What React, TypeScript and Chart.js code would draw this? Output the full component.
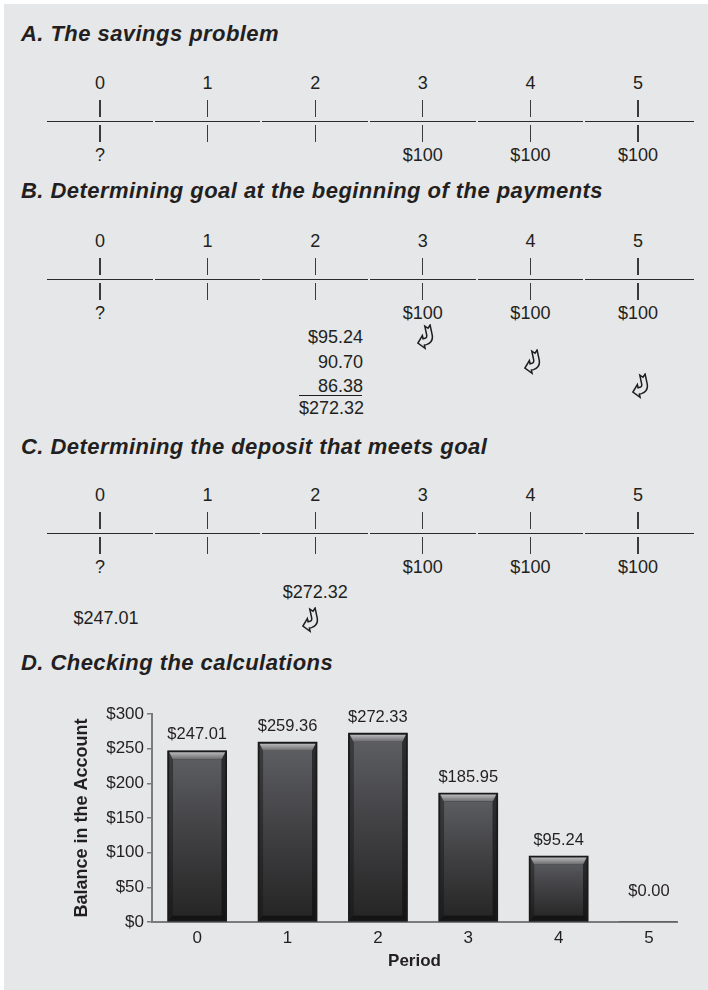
import React, { useEffect, useRef } from "react";
import { Chart, registerables } from "chart.js";

Chart.register(...registerables);

// ---------------- data ----------------
const periods = [0, 1, 2, 3, 4, 5];
const cashFlows: (number | null)[] = [null, null, null, 100, 100, 100];
const unknownMark = "?";
const presentValues = [95.24, 90.7, 86.38];
const goalAmount = 272.32;
const depositAmount = 247.01;
const balances = [247.01, 259.36, 272.33, 185.95, 95.24, 0];
const balanceTicks = [0, 50, 100, 150, 200, 250, 300];
const sectionTitles = [
  "A. The savings problem",
  "B. Determining goal at the beginning of the payments",
  "C. Determining the deposit that meets goal",
  "D. Checking the calculations",
];
const yAxisTitle = "Balance in the Account";
const xAxisTitle = "Period";

// ---------------- layout ----------------
const FONT = "'Liberation Sans', Arial, Helvetica, sans-serif";
const BG = "#e6e7e9";
const INK = "#231f20";
const TL_X0 = 100;
const TL_DX = 107.6;
const tlX = (p: number) => TL_X0 + p * TL_DX;
const LINE_L = 47;
const LINE_R = 694;
const TITLE_Y = [34, 191, 447, 663];
const TIMELINE_Y = [83, 241, 495];

const money = (v: number) => `$${v.toFixed(2)}`;

function Txt({
  x,
  y,
  children,
  align = "center",
  size = 18,
  bold = false,
  italic = false,
  spacing = 0,
}: {
  x: number;
  y: number;
  children: React.ReactNode;
  align?: "left" | "center" | "right";
  size?: number;
  bold?: boolean;
  italic?: boolean;
  spacing?: number;
}) {
  const tx = align === "center" ? "-50%" : align === "right" ? "-100%" : "0";
  return (
    <div
      style={{
        position: "absolute",
        left: x,
        top: y,
        transform: `translate(${tx}, -50%)`,
        fontSize: size,
        lineHeight: 1,
        whiteSpace: "nowrap",
        fontWeight: bold ? 700 : 400,
        fontStyle: italic ? "italic" : "normal",
        letterSpacing: spacing,
        color: INK,
        fontFamily: FONT,
      }}
    >
      {children}
    </div>
  );
}

function VBar({ x, y1, y2 }: { x: number; y1: number; y2: number }) {
  return (
    <div
      style={{
        position: "absolute",
        left: x - 0.6,
        top: y1,
        width: 1.2,
        height: y2 - y1,
        background: "#3a3a3a",
      }}
    />
  );
}

function Arrow({ cx, cy }: { cx: number; cy: number }) {
  return (
    <svg
      width={24}
      height={26}
      viewBox="0 0 22 24"
      style={{ position: "absolute", left: cx - 12, top: cy - 13 }}
    >
      <g transform="rotate(-12 11 12)">
        <path
          d="M12,2 L14.5,4.5 L17,2 L17,11 Q17,18 10,19 L8,19 L8,22 L2.5,16 L8,10 L8,13 L10,13 Q12,13 12,10 Z"
          fill={BG}
          stroke="#1e1e1e"
          strokeWidth={1.4}
          strokeLinejoin="miter"
        />
      </g>
    </svg>
  );
}

function Timeline({ top }: { top: number }) {
  const bounds: number[] = [LINE_L];
  for (let i = 0; i < periods.length - 1; i++) bounds.push((tlX(periods[i]) + tlX(periods[i + 1])) / 2);
  bounds.push(LINE_R);
  return (
    <>
      {periods.map((p) => (
        <Txt key={"n" + p} x={tlX(p)} y={top}>
          {String(p)}
        </Txt>
      ))}
      {periods.map((p) => (
        <VBar key={"u" + p} x={tlX(p)} y1={top + 17} y2={top + 34} />
      ))}
      {bounds.slice(0, -1).map((b, i) => (
        <div
          key={"s" + i}
          style={{
            position: "absolute",
            left: b + (i === 0 ? 0 : 1),
            top: top + 37.5,
            width: bounds[i + 1] - b - (i === 0 ? 1 : 2) + (i === bounds.length - 2 ? 1 : 0),
            height: 1.6,
            background: "#2a2a2a",
          }}
        />
      ))}
      {periods.map((p) => (
        <VBar key={"d" + p} x={tlX(p)} y1={top + 42} y2={top + 59} />
      ))}
      {periods.map((p, i) => {
        const cf = cashFlows[i];
        const label = i === 0 ? unknownMark : cf != null ? `$${cf}` : "";
        return label ? (
          <Txt key={"c" + p} x={tlX(p)} y={top + 72}>
            {label}
          </Txt>
        ) : null;
      })}
    </>
  );
}

const bevelPlugin = {
  id: "bevelBars",
  afterDatasetDraw(chart: any, args: any) {
    const ctx: CanvasRenderingContext2D = chart.ctx;
    args.meta.data.forEach((el: any) => {
      const { x, y, base, width } = el.getProps(["x", "y", "base", "width"], true);
      const h = base - y;
      if (h < 2) return;
      const l = x - width / 2;
      const r = x + width / 2;
      const t = y;
      const b = base;
      const ins = 1.5;
      const bw = Math.min(7, h / 3);
      const sw = 3.5;
      ctx.save();
      ctx.fillStyle = "#1a1a1a";
      ctx.fillRect(l, t, width, h);
      // face
      const g = ctx.createLinearGradient(0, t, 0, b);
      g.addColorStop(0, "#5f6064");
      g.addColorStop(0.45, "#434346");
      g.addColorStop(1, "#242424");
      ctx.fillStyle = g;
      ctx.fillRect(l + ins + sw, t + ins + bw, width - 2 * ins - 2 * sw, h - 2 * ins - bw - 4);
      // left bevel
      const lg = ctx.createLinearGradient(0, t, 0, b);
      lg.addColorStop(0, "#3d3d40");
      lg.addColorStop(1, "#1c1c1c");
      ctx.fillStyle = lg;
      ctx.beginPath();
      ctx.moveTo(l + ins, t + ins);
      ctx.lineTo(l + ins + sw, t + ins + bw);
      ctx.lineTo(l + ins + sw, b - ins - 4);
      ctx.lineTo(l + ins, b - ins);
      ctx.closePath();
      ctx.fill();
      // right bevel
      const rg = ctx.createLinearGradient(0, t, 0, b);
      rg.addColorStop(0, "#2e2e30");
      rg.addColorStop(1, "#151515");
      ctx.fillStyle = rg;
      ctx.beginPath();
      ctx.moveTo(r - ins, t + ins);
      ctx.lineTo(r - ins - sw, t + ins + bw);
      ctx.lineTo(r - ins - sw, b - ins - 4);
      ctx.lineTo(r - ins, b - ins);
      ctx.closePath();
      ctx.fill();
      // bottom bevel
      ctx.fillStyle = "#141414";
      ctx.beginPath();
      ctx.moveTo(l + ins, b - ins);
      ctx.lineTo(l + ins + sw, b - ins - 4);
      ctx.lineTo(r - ins - sw, b - ins - 4);
      ctx.lineTo(r - ins, b - ins);
      ctx.closePath();
      ctx.fill();
      // top bevel
      const tg = ctx.createLinearGradient(0, t + ins, 0, t + ins + bw);
      tg.addColorStop(0, "#b9b9ba");
      tg.addColorStop(1, "#6a6a6d");
      ctx.fillStyle = tg;
      ctx.beginPath();
      ctx.moveTo(l + ins, t + ins);
      ctx.lineTo(r - ins, t + ins);
      ctx.lineTo(r - ins - sw, t + ins + bw);
      ctx.lineTo(l + ins + sw, t + ins + bw);
      ctx.closePath();
      ctx.fill();
      ctx.restore();
    });
  },
};

const labelPlugin = {
  id: "barLabels",
  afterDatasetsDraw(chart: any) {
    const ctx: CanvasRenderingContext2D = chart.ctx;
    const meta = chart.getDatasetMeta(0);
    ctx.save();
    ctx.font = `16.5px ${FONT}`;
    ctx.fillStyle = INK;
    ctx.textAlign = "center";
    ctx.textBaseline = "middle";
    meta.data.forEach((el: any, i: number) => {
      const { x, y, base } = el.getProps(["x", "y", "base"], true);
      const ly = Math.min(y - 16, base - 31);
      ctx.fillText(money(balances[i]), x, ly);
    });
    ctx.restore();
  },
};

function BalanceChart() {
  const ref = useRef<HTMLCanvasElement | null>(null);
  useEffect(() => {
    if (!ref.current) return;
    Chart.defaults.font.family = FONT;
    const chart = new Chart(ref.current, {
      type: "bar",
      data: {
        datasets: [
          {
            data: periods.map((p, i) => ({ x: p, y: balances[i] })),
            backgroundColor: "#1a1a1a",
            borderWidth: 0,
            barThickness: 59,
          },
        ],
      },
      options: {
        animation: false,
        responsive: false,
        events: [],
        layout: { padding: { left: 60, right: 31, top: 24, bottom: 0 } },
        plugins: { legend: { display: false }, tooltip: { enabled: false } },
        scales: {
          x: {
            type: "linear",
            offset: false,
            min: -0.5,
            max: 5.31,
            afterFit: (s: any) => {
              s.height = 68;
            },
            afterBuildTicks: (s: any) => {
              s.ticks = periods.map((p) => ({ value: p }));
            },
            grid: { display: false, drawTicks: false },
            border: { display: true, color: "#7b7b7d", width: 2 },
            ticks: {
              padding: 6,
              font: { size: 17 },
              color: INK,
              maxRotation: 0,
              autoSkip: false,
              callback: (v: any) => String(v),
            },
            title: {
              display: true,
              text: xAxisTitle,
              font: { size: 17, weight: "bold" },
              color: INK,
              padding: { top: 0, bottom: 18 },
            },
          },
          y: {
            min: 0,
            max: 300,
            afterFit: (s: any) => {
              s.width = 92;
            },
            afterBuildTicks: (s: any) => {
              s.ticks = balanceTicks.map((v) => ({ value: v }));
            },
            grid: {
              display: true,
              drawOnChartArea: false,
              drawTicks: true,
              tickLength: 5,
              color: "#7b7b7d",
              lineWidth: 1.5,
            },
            border: { display: true, color: "#7b7b7d", width: 2 },
            ticks: {
              padding: 3,
              font: { size: 17 },
              color: INK,
              callback: (v: any) => `$${v}`,
            },
            title: {
              display: true,
              text: yAxisTitle,
              font: { size: 18, weight: "bold" },
              color: INK,
              padding: { top: 11, bottom: 0 },
            },
          },
        },
      } as any,
      plugins: [bevelPlugin, labelPlugin],
    });
    return () => chart.destroy();
  }, []);
  return (
    <div style={{ position: "absolute", left: 0, top: 690, width: 708, height: 300 }}>
      <canvas ref={ref} width={708} height={300} style={{ width: 708, height: 300, display: "block" }} />
    </div>
  );
}

export default function App() {
  return (
    <div
      style={{
        position: "absolute",
        left: 0,
        top: 0,
        width: 708,
        height: 990,
        background: "#ffffff",
        overflow: "hidden",
        fontFamily: FONT,
      }}
    >
      <div style={{ position: "absolute", left: 4, top: 4, width: 704, height: 986, background: BG }} />

      {sectionTitles.map((t, i) => (
        <Txt key={t} x={21} y={TITLE_Y[i]} align="left" size={22} bold italic spacing={0.45}>
          {t}
        </Txt>
      ))}

      {TIMELINE_Y.map((y) => (
        <Timeline key={y} top={y} />
      ))}

      {/* Section B: discounting each payment back to period 2 */}
      {presentValues.map((v, i) => (
        <Txt key={"pv" + i} x={363} y={337 + i * 24.5} align="right">
          {i === 0 ? money(v) : v.toFixed(2)}
        </Txt>
      ))}
      <div style={{ position: "absolute", left: 299, top: 394.5, width: 63, height: 1.6, background: "#1e1e1e" }} />
      <Txt x={299} y={408} align="left">
        {money(goalAmount)}
      </Txt>
      {presentValues.map((v, i) => (
        <Arrow key={"ar" + i} cx={tlX(periods[3 + i]) + 3} cy={337 + i * 24.5} />
      ))}

      {/* Section C */}
      <Txt x={tlX(2)} y={592}>
        {money(goalAmount)}
      </Txt>
      <Txt x={106} y={618}>
        {money(depositAmount)}
      </Txt>
      <Arrow cx={tlX(2) - 4} cy={620} />

      <BalanceChart />
    </div>
  );
}
